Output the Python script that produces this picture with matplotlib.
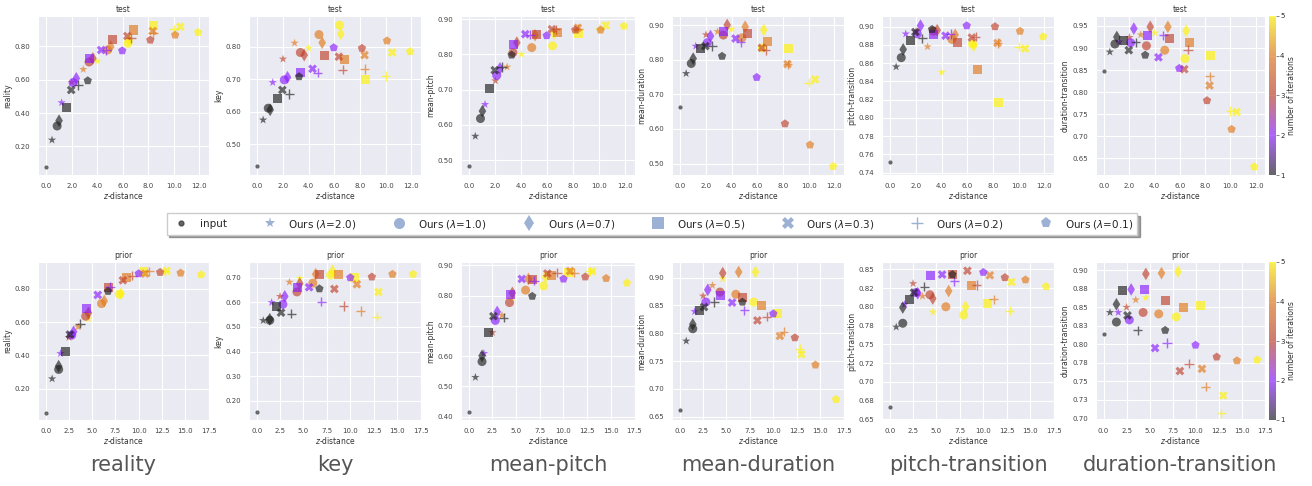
import numpy as np
import matplotlib
matplotlib.use('Agg')
import matplotlib.pyplot as plt
import seaborn as sns
from matplotlib.colors import LinearSegmentedColormap
from matplotlib.lines import Line2D
from matplotlib.ticker import FormatStrFormatter

sns.set_style('darkgrid')
plt.rcParams['font.family'] = ['DejaVu Sans']

metrics = ['reality', 'key', 'mean-pitch', 'mean-duration', 'pitch-transition', 'duration-transition']
markers = ['*', 'o', 'd', 's', 'X', '+', 'p']
labels = ['Ours ($\\lambda$=2.0)', 'Ours ($\\lambda$=1.0)', 'Ours ($\\lambda$=0.7)', 'Ours ($\\lambda$=0.5)',
          'Ours ($\\lambda$=0.3)', 'Ours ($\\lambda$=0.2)', 'Ours ($\\lambda$=0.1)']
iterations = [1, 2, 3, 4, 5]

# rows: lambda 2.0, 1.0, 0.7, 0.5, 0.3, 0.2, 0.1 ; cols: iteration 1..5
test_z = [[0.45, 1.2, 2.0, 2.9, 4.0],
          [0.85, 2.1, 3.35, 4.8, 6.4],
          [1.0, 2.35, 3.65, 5.05, 6.5],
          [1.55, 3.4, 5.2, 6.8, 8.4],
          [1.95, 4.3, 6.35, 8.35, 10.5],
          [2.5, 4.7, 6.65, 8.35, 10.0],
          [3.25, 5.95, 8.15, 10.1, 11.9]]
test_input = [0.078, 0.435, 0.484, 0.663, 0.752, 0.849]
test_reality = [[0.238, 0.462, 0.584, 0.662, 0.712],
                [0.322, 0.582, 0.706, 0.778, 0.818],
                [0.354, 0.608, 0.728, 0.798, 0.838],
                [0.432, 0.728, 0.842, 0.898, 0.926],
                [0.538, 0.778, 0.862, 0.892, 0.918],
                [0.568, 0.775, 0.848, 0.878, 0.902],
                [0.594, 0.774, 0.838, 0.868, 0.884]]
test_key = [[0.575, 0.69, 0.762, 0.811, 0.795],
            [0.611, 0.698, 0.782, 0.837, 0.866],
            [0.606, 0.706, 0.774, 0.812, 0.839],
            [0.641, 0.72, 0.772, 0.762, 0.70],
            [0.667, 0.732, 0.769, 0.774, 0.782],
            [0.655, 0.72, 0.729, 0.731, 0.71],
            [0.708, 0.797, 0.795, 0.818, 0.785]]
test_mean_pitch = [[0.568, 0.658, 0.725, 0.764, 0.80],
                   [0.618, 0.74, 0.805, 0.819, 0.824],
                   [0.639, 0.76, 0.833, 0.854, 0.859],
                   [0.703, 0.827, 0.856, 0.862, 0.858],
                   [0.755, 0.857, 0.871, 0.875, 0.882],
                   [0.764, 0.856, 0.871, 0.873, 0.873],
                   [0.798, 0.853, 0.869, 0.869, 0.88]]
test_mean_duration = [[0.76, 0.839, 0.872, 0.881, 0.888],
                      [0.789, 0.849, 0.871, 0.863, 0.834],
                      [0.803, 0.868, 0.90, 0.895, 0.886],
                      [0.832, 0.881, 0.875, 0.852, 0.832],
                      [0.839, 0.861, 0.834, 0.787, 0.743],
                      [0.839, 0.85, 0.828, 0.786, 0.734],
                      [0.81, 0.749, 0.615, 0.554, 0.492]]
test_pitch_trans = [[0.856, 0.892, 0.895, 0.878, 0.85],
                    [0.866, 0.892, 0.895, 0.886, 0.881],
                    [0.875, 0.901, 0.896, 0.891, 0.879],
                    [0.885, 0.891, 0.883, 0.853, 0.817],
                    [0.894, 0.89, 0.888, 0.882, 0.876],
                    [0.887, 0.892, 0.889, 0.882, 0.878],
                    [0.897, 0.901, 0.90, 0.895, 0.889]]
test_dur_trans = [[0.891, 0.914, 0.924, 0.93, 0.934],
                  [0.909, 0.912, 0.905, 0.895, 0.876],
                  [0.925, 0.944, 0.948, 0.948, 0.939],
                  [0.918, 0.929, 0.922, 0.912, 0.882],
                  [0.895, 0.879, 0.852, 0.815, 0.755],
                  [0.913, 0.929, 0.896, 0.836, 0.757],
                  [0.884, 0.854, 0.781, 0.716, 0.631]]

prior_z = [[0.7, 1.6, 2.5, 3.5, 4.6],
           [1.4, 2.8, 4.3, 6.0, 7.9],
           [1.4, 3.0, 4.6, 6.3, 8.1],
           [2.1, 4.4, 6.7, 8.7, 10.5],
           [2.6, 5.6, 8.3, 10.7, 13.0],
           [3.7, 6.9, 9.3, 11.1, 12.8],
           [6.7, 10.0, 12.3, 14.5, 16.7]]
prior_input = [0.054, 0.153, 0.415, 0.662, 0.666, 0.814]
prior_reality = [[0.26, 0.412, 0.508, 0.572, 0.62],
                 [0.316, 0.522, 0.636, 0.712, 0.768],
                 [0.336, 0.542, 0.656, 0.728, 0.772],
                 [0.422, 0.684, 0.806, 0.868, 0.906],
                 [0.526, 0.764, 0.852, 0.892, 0.908],
                 [0.592, 0.812, 0.88, 0.906, 0.905],
                 [0.786, 0.892, 0.90, 0.896, 0.886]]
prior_key = [[0.526, 0.599, 0.624, 0.682, 0.697],
             [0.527, 0.592, 0.642, 0.678, 0.711],
             [0.531, 0.624, 0.676, 0.714, 0.727],
             [0.581, 0.661, 0.714, 0.714, 0.701],
             [0.558, 0.661, 0.654, 0.673, 0.642],
             [0.554, 0.603, 0.585, 0.565, 0.542],
             [0.655, 0.70, 0.703, 0.714, 0.714]]
prior_mean_pitch = [[0.53, 0.609, 0.678, 0.735, 0.793],
                    [0.582, 0.718, 0.777, 0.818, 0.832],
                    [0.601, 0.746, 0.809, 0.855, 0.862],
                    [0.677, 0.804, 0.854, 0.867, 0.876],
                    [0.732, 0.855, 0.873, 0.881, 0.88],
                    [0.727, 0.849, 0.876, 0.876, 0.88],
                    [0.798, 0.855, 0.862, 0.857, 0.842]]
prior_mean_duration = [[0.786, 0.839, 0.867, 0.886, 0.898],
                       [0.808, 0.856, 0.874, 0.87, 0.856],
                       [0.816, 0.878, 0.908, 0.91, 0.91],
                       [0.84, 0.867, 0.865, 0.85, 0.835],
                       [0.847, 0.855, 0.823, 0.795, 0.762],
                       [0.856, 0.841, 0.83, 0.803, 0.772],
                       [0.856, 0.835, 0.792, 0.743, 0.681]]
prior_pitch_trans = [[0.773, 0.803, 0.831, 0.814, 0.793],
                     [0.778, 0.819, 0.816, 0.80, 0.789],
                     [0.799, 0.818, 0.811, 0.821, 0.80],
                     [0.81, 0.842, 0.843, 0.829, 0.805],
                     [0.819, 0.843, 0.848, 0.842, 0.833],
                     [0.827, 0.834, 0.829, 0.81, 0.795],
                     [0.843, 0.846, 0.839, 0.836, 0.827]]
prior_dur_trans = [[0.843, 0.843, 0.85, 0.86, 0.863],
                   [0.83, 0.833, 0.843, 0.841, 0.837],
                   [0.854, 0.874, 0.895, 0.896, 0.898],
                   [0.872, 0.874, 0.859, 0.849, 0.852],
                   [0.839, 0.795, 0.764, 0.767, 0.731],
                   [0.819, 0.802, 0.774, 0.743, 0.707],
                   [0.819, 0.799, 0.783, 0.778, 0.779]]

test_vals = [test_reality, test_key, test_mean_pitch, test_mean_duration, test_pitch_trans, test_dur_trans]
prior_vals = [prior_reality, prior_key, prior_mean_pitch, prior_mean_duration, prior_pitch_trans, prior_dur_trans]

# axis limits
test_ylims = [(0.028, 0.982), (0.406, 0.894), (0.458, 0.9085), (0.467, 0.926), (0.7375, 0.9116), (0.6124, 0.9725)]
prior_ylims = [(0.012, 0.962), (0.122, 0.7635), (0.389, 0.911), (0.644, 0.928), (0.649, 0.8597), (0.698, 0.911)]

cmap = LinearSegmentedColormap.from_list('iters', ['#1e1e1e', '#8a1cff', '#c0402a', '#e27818', '#fff300'], 256)

W, H = 1312, 486
fig = plt.figure(figsize=(W / 100, H / 100), dpi=100)
lefts = [38, 249, 461, 672, 882, 1096]
widths = [171, 172, 174, 172, 172, 169]
rows = [('test', test_z, test_input, test_vals, test_ylims, (-0.65, 12.75), 16, 175),
        ('prior', prior_z, prior_input, prior_vals, prior_ylims, (-0.82, 17.55), 262, 420)]
sizes = {'*': 40, 'o': 42, 'd': 42, 's': 42, 'X': 40, '+': 45, 'p': 40}

for title, zs, inp, vals, ylims, xlim, top, bot in rows:
    for j, metric in enumerate(metrics):
        ax = fig.add_axes([lefts[j] / W, 1 - bot / H, widths[j] / W, (bot - top) / H])
        sc = ax.scatter([0.0], [inp[j]], c=[1], cmap=cmap, vmin=1, vmax=5, s=9, alpha=0.65, marker='o', linewidths=0)
        for k, m in enumerate(markers):
            lw = 1.0 if m == '+' else 0
            sc = ax.scatter(zs[k], vals[j][k], c=iterations, cmap=cmap, vmin=1, vmax=5,
                            s=sizes[m], alpha=0.65, marker=m, linewidths=lw)
        ax.set_xlim(*xlim)
        ax.set_ylim(*ylims[j])
        ax.xaxis.set_major_formatter(FormatStrFormatter('%.1f'))
        ax.yaxis.set_major_formatter(FormatStrFormatter('%.2f'))
        ax.tick_params(labelsize=5, colors='#444444', pad=2)
        ax.set_title(title, fontsize=5.5, color='#333333', pad=3)
        ax.set_xlabel('$z$-distance', fontsize=5.5, color='#333333', labelpad=1)
        ax.set_ylabel(metric, fontsize=5.5, color='#333333', labelpad=2)
    cax = fig.add_axes([1269 / W, 1 - bot / H, 7 / W, (bot - top) / H])
    cb = fig.colorbar(sc, cax=cax, ticks=[1, 2, 3, 4, 5])
    cb.outline.set_visible(False)
    cax.tick_params(labelsize=5, length=2, width=0.5, color='#555555', pad=1)
    cax.set_ylabel('number of iterations', fontsize=5.5, color='#333333', labelpad=2)

# legend
handles = [Line2D([], [], marker='o', linestyle='', color='#333333', alpha=0.75, markersize=3.5)]
for m in markers:
    handles.append(Line2D([], [], marker=m, linestyle='', color='#4c72b0', alpha=0.55,
                          markersize=8, markeredgewidth=1.0 if m == '+' else 0))
leg = fig.legend(handles, ['input'] + labels, loc='center', bbox_to_anchor=(0.497, 0.539), ncol=8,
                 fontsize=7.5, frameon=True, shadow=True, fancybox=False, columnspacing=3.1,
                 handletextpad=0.8, borderpad=0.4)
leg.get_frame().set_facecolor('white')
leg.get_frame().set_edgecolor('#cccccc')
leg.get_frame().set_alpha(1)

for j, metric in enumerate(metrics):
    cx = (lefts[j] + widths[j] / 2) / W
    fig.text(cx, 1 - 465 / H, metric, ha='center', va='center', fontsize=15, color='#555555')

fig.savefig('out.png', dpi=100)
